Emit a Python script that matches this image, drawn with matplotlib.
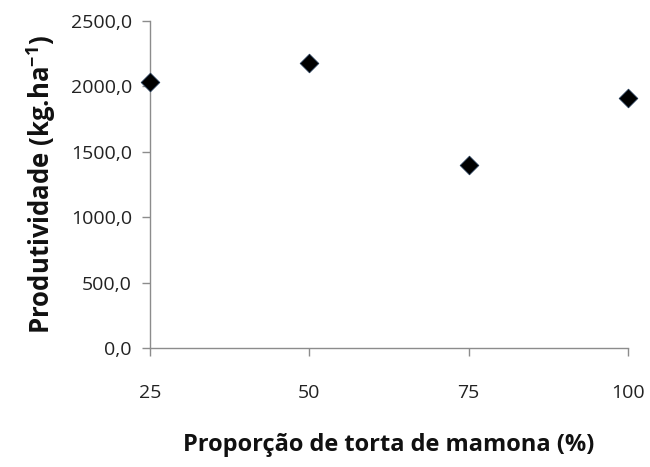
import matplotlib
matplotlib.use('Agg')
import matplotlib.pyplot as plt
from matplotlib.ticker import FuncFormatter

proporcao = [25, 50, 75, 100]
produtividade = [2030, 2180, 1400, 1915]
x_ticks = [25, 50, 75, 100]
y_ticks = [0, 500, 1000, 1500, 2000, 2500]

plt.rcParams['font.family'] = ['Open Sans', 'DejaVu Sans']

fig = plt.figure(figsize=(6.5, 4.67), dpi=100)
ax = fig.add_axes([0.2308, 0.2548, 0.7352, 0.7002])

ax.scatter(proporcao, produtividade, marker='D', s=90, color='black',
           edgecolors='#1f3550', linewidths=0.6, zorder=3, clip_on=False)

ax.set_xlim(25, 100)
ax.set_ylim(0, 2500)
ax.set_xticks(x_ticks)
ax.set_yticks(y_ticks)
ax.yaxis.set_major_formatter(FuncFormatter(lambda v, p: f'{v:.1f}'.replace('.', ',')))

for s in ['top', 'right']:
    ax.spines[s].set_visible(False)
for s in ['left', 'bottom']:
    ax.spines[s].set_color('#8c8c8c')
    ax.spines[s].set_linewidth(1.0)

ax.tick_params(axis='both', direction='out', length=6, width=1.0, color='#8c8c8c',
               labelsize=14, labelcolor='#222222')
ax.tick_params(axis='x', pad=20)
ax.tick_params(axis='y', pad=7)

ax.set_xlabel('Proporção de torta de mamona (%)', fontsize=17, fontweight='bold',
              color='#111111', labelpad=22)
ax.set_ylabel('Produtividade (kg.ha$^{\\mathregular{-1}}$)', fontsize=18.5, fontweight='bold',
              color='#111111', labelpad=9)

fig.savefig('out.png', dpi=100)
